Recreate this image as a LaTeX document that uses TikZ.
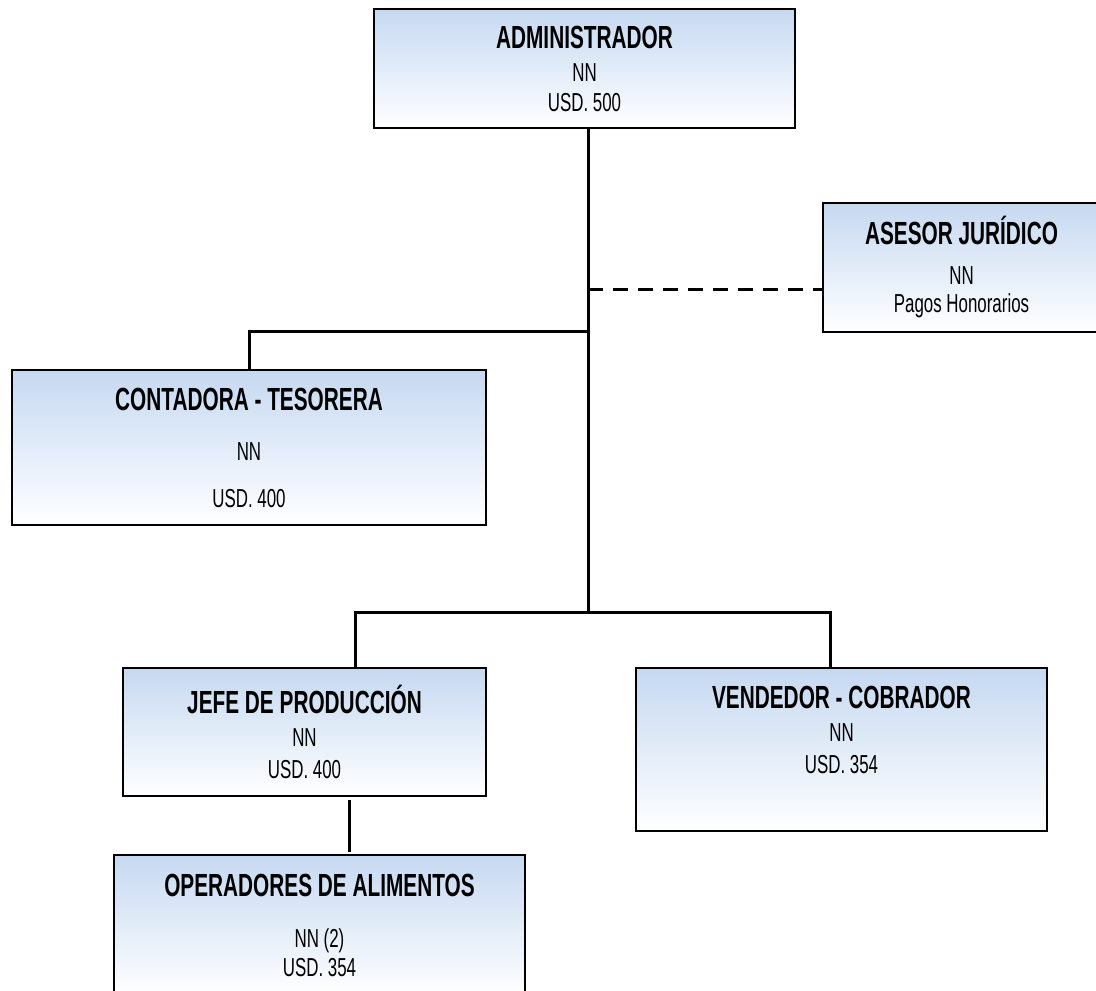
\documentclass[tikz,border=0pt]{standalone}
\usepackage{fontspec}
\setmainfont[FakeStretch=0.65]{Liberation Sans}
\usepackage{tikz}

\definecolor{celeste}{RGB}{198,217,241}
\newcommand{\cargo}[1]{{\bfseries\fontsize{32}{30}\selectfont #1}}

\begin{document}
\begin{tikzpicture}[x=1pt, y=-1pt]
\tikzstyle{puesto} = [draw, line width=1.6pt, top color=celeste, bottom color=white,
  align=center, inner sep=0pt, font=\fontsize{26}{30}\selectfont]
\tikzstyle{linea} = [line width=3pt]
\useasboundingbox (0,0) rectangle (1096,991);

\node[puesto, minimum width=421, minimum height=119] (admin) at (584.5,68.5)
  {\cargo{ADMINISTRADOR}\\[3pt] NN\\ USD. 500};
\node[puesto, minimum width=277, minimum height=129] (asesor) at (961.5,267.5)
  {\cargo{ASESOR JURÍDICO}\\[10pt] NN\\[-2pt] Pagos Honorarios};
\node[puesto, minimum width=474, minimum height=155] (conta) at (249,447.5)
  {\cargo{CONTADORA - TESORERA}\\[20pt] NN\\[17pt] USD. 400};
\node[puesto, minimum width=363, minimum height=128] (jefe) at (304.5,732)
  {\cargo{JEFE DE PRODUCCIÓN}\\[3pt] NN\\[2pt] USD. 400};
\node[puesto, minimum width=411, minimum height=163] (vend) at (841.5,749.5)
  {\cargo{VENDEDOR - COBRADOR}\\[3pt] NN\\[2pt] USD. 354\rule[-39pt]{0pt}{1pt}};
\node[puesto, minimum width=411, minimum height=140] (oper) at (319.5,925)
  {\cargo{OPERADORES DE ALIMENTOS}\\[21pt] NN (2)\\[-1pt] USD. 354};

% puntos de la linea principal
\coordinate (jur) at (588,289);
\coordinate (cont) at (588,331);
\coordinate (bus) at (588,612);

\draw[linea] (admin.south -| bus) -- (bus);
\draw[linea, dash pattern=on 15pt off 10pt] (jur) -- (jur -| asesor.west);
\draw[linea] (cont) -| (conta.north);
\draw[linea] ([xshift=50.5]jefe.north) |- (bus) -| ([xshift=-11.5]vend.north);
\draw[linea, shorten <=3pt, shorten >=2pt] ([xshift=44.5]jefe.south) -- ([xshift=44.5]jefe.south |- oper.north);
\end{tikzpicture}
\end{document}
